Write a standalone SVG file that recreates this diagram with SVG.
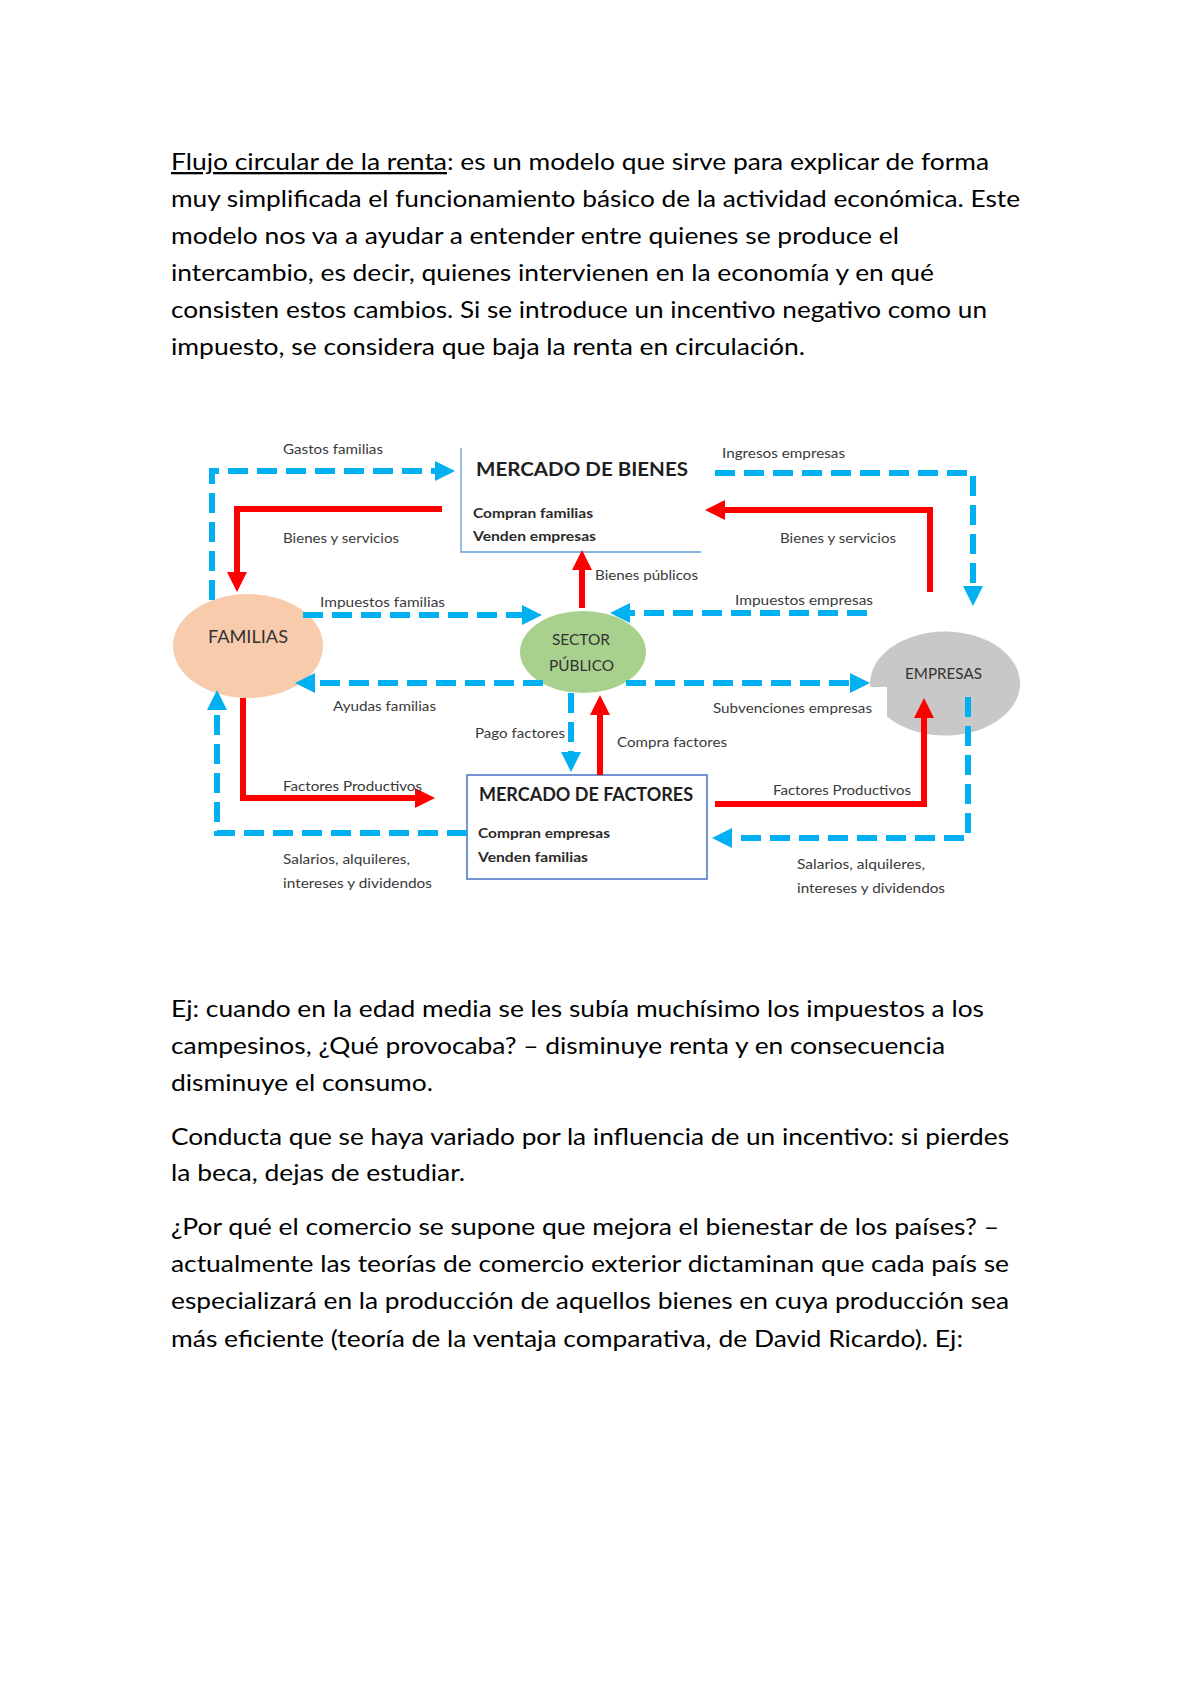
<svg xmlns="http://www.w3.org/2000/svg" width="1200" height="1698" viewBox="0 0 1200 1698">
<style>
.p{font-family:Lato,"Open Sans","Liberation Sans",sans-serif;font-size:23px;fill:#000}
.l{font-family:Lato,"Open Sans","Liberation Sans",sans-serif;font-size:13.5px;fill:#3a3a3a}
.n{font-family:Lato,"Open Sans","Liberation Sans",sans-serif;fill:#333}
.t{font-family:Lato,"Open Sans","Liberation Sans",sans-serif;font-size:19px;font-weight:bold;fill:#1e1e1e}
.s{font-family:Lato,"Open Sans","Liberation Sans",sans-serif;font-size:13.5px;font-weight:bold;fill:#2a2a2a}
.b{fill:none;stroke:#00B0F0;stroke-width:6;stroke-dasharray:20 9;marker-end:url(#ab)}
.r{fill:none;stroke:#FF0000;stroke-width:6;marker-end:url(#ar)}
</style>
<defs>
<marker id="ab" markerUnits="userSpaceOnUse" markerWidth="20" markerHeight="20" refX="0" refY="10" orient="auto" overflow="visible"><path d="M0,0 L20,10 L0,20 z" fill="#00B0F0"/></marker>
<marker id="ar" markerUnits="userSpaceOnUse" markerWidth="20" markerHeight="20" refX="0" refY="10" orient="auto" overflow="visible"><path d="M0,0 L20,10 L0,20 z" fill="#FF0000"/></marker>
</defs>
<rect width="1200" height="1698" fill="#fff"/>

<g id="intro">
<text class="p" x="171" y="170" textLength="276" lengthAdjust="spacingAndGlyphs" text-decoration="underline">Flujo circular de la renta</text>
<text class="p" x="447" y="170" textLength="542" lengthAdjust="spacingAndGlyphs">: es un modelo que sirve para explicar de forma</text>
<text class="p" x="171" y="207" textLength="849" lengthAdjust="spacingAndGlyphs">muy simplificada el funcionamiento básico de la actividad económica. Este</text>
<text class="p" x="171" y="244" textLength="728" lengthAdjust="spacingAndGlyphs">modelo nos va a ayudar a entender entre quienes se produce el</text>
<text class="p" x="171" y="281" textLength="763" lengthAdjust="spacingAndGlyphs">intercambio, es decir, quienes intervienen en la economía y en qué</text>
<text class="p" x="171" y="318" textLength="816" lengthAdjust="spacingAndGlyphs">consisten estos cambios. Si se introduce un incentivo negativo como un</text>
<text class="p" x="171" y="355" textLength="634" lengthAdjust="spacingAndGlyphs">impuesto, se considera que baja la renta en circulación.</text>
</g>

<g id="familias">
<ellipse cx="248" cy="646" rx="75" ry="52" fill="#F8CBAD"/>
<text class="n" x="208" y="643" font-size="17" textLength="80" lengthAdjust="spacingAndGlyphs">FAMILIAS</text>
</g>
<g id="sector-publico">
<ellipse cx="583" cy="652" rx="63" ry="41" fill="#A9D18E"/>
<text class="n" x="552" y="645" font-size="15" textLength="58" lengthAdjust="spacingAndGlyphs">SECTOR</text>
<text class="n" x="549" y="671" font-size="15" textLength="65" lengthAdjust="spacingAndGlyphs">PÚBLICO</text>
</g>
<g id="empresas">
<path d="M870.2,687 A75,52 0 1 1 887,716.5 L887,687 Z" fill="#C8C8C8"/>
<text class="n" x="905" y="679" font-size="15" textLength="77" lengthAdjust="spacingAndGlyphs">EMPRESAS</text>
</g>
<g id="mercado-bienes">
<path d="M461,448 V552 H701" fill="none" stroke="#5B9BD5" stroke-width="1.3"/>
<text class="t" x="476" y="476" textLength="212" lengthAdjust="spacingAndGlyphs">MERCADO DE BIENES</text>
<text class="s" x="473" y="518" textLength="120" lengthAdjust="spacingAndGlyphs">Compran familias</text>
<text class="s" x="473" y="541" textLength="123" lengthAdjust="spacingAndGlyphs">Venden empresas</text>
</g>
<g id="mercado-factores">
<rect x="467" y="775" width="240" height="104" fill="#fff" stroke="#4472C4" stroke-width="1.5"/>
<text class="t" x="479" y="801" textLength="214" lengthAdjust="spacingAndGlyphs">MERCADO DE FACTORES</text>
<text class="s" x="478" y="838" textLength="132" lengthAdjust="spacingAndGlyphs">Compran empresas</text>
<text class="s" x="478" y="862" textLength="110" lengthAdjust="spacingAndGlyphs">Venden familias</text>
</g>

<g id="connectors">
<path class="b" d="M212,600 V471 H435"/>
<path class="b" d="M715,473 H973 V586"/>
<path class="b" d="M303,615 H522"/>
<path class="b" d="M867,613 H630"/>
<path class="b" d="M543,683 H315"/>
<path class="b" d="M626,683 H850"/>
<path class="b" d="M571,693 V752"/>
<path class="b" d="M467,833 H217 V710"/>
<path class="b" d="M968,697 V838 H732"/>
<path class="r" d="M442,509 H237 V572"/>
<path class="r" d="M930,592 V510 H725"/>
<path class="r" d="M582,608 V570"/>
<path class="r" d="M600,775 V715"/>
<path class="r" d="M243,698 V798 H415"/>
<path class="r" d="M715,804 H924 V718"/>
</g>

<g id="labels">
<text class="l" x="283" y="454" textLength="100" lengthAdjust="spacingAndGlyphs">Gastos familias</text>
<text class="l" x="283" y="543" textLength="116" lengthAdjust="spacingAndGlyphs">Bienes y servicios</text>
<text class="l" x="320" y="607" textLength="125" lengthAdjust="spacingAndGlyphs">Impuestos familias</text>
<text class="l" x="333" y="711" textLength="103" lengthAdjust="spacingAndGlyphs">Ayudas familias</text>
<text class="l" x="283" y="791" textLength="139" lengthAdjust="spacingAndGlyphs">Factores Productivos</text>
<text class="l" x="283" y="864" textLength="127" lengthAdjust="spacingAndGlyphs">Salarios, alquileres,</text>
<text class="l" x="283" y="888" textLength="149" lengthAdjust="spacingAndGlyphs">intereses y dividendos</text>
<text class="l" x="475" y="738" textLength="90" lengthAdjust="spacingAndGlyphs">Pago factores</text>
<text class="l" x="617" y="747" textLength="110" lengthAdjust="spacingAndGlyphs">Compra factores</text>
<text class="l" x="595" y="580" textLength="103" lengthAdjust="spacingAndGlyphs">Bienes públicos</text>
<text class="l" x="722" y="458" textLength="123" lengthAdjust="spacingAndGlyphs">Ingresos empresas</text>
<text class="l" x="780" y="543" textLength="116" lengthAdjust="spacingAndGlyphs">Bienes y servicios</text>
<text class="l" x="735" y="605" textLength="138" lengthAdjust="spacingAndGlyphs">Impuestos empresas</text>
<text class="l" x="713" y="713" textLength="159" lengthAdjust="spacingAndGlyphs">Subvenciones empresas</text>
<text class="l" x="773" y="795" textLength="138" lengthAdjust="spacingAndGlyphs">Factores Productivos</text>
<text class="l" x="797" y="869" textLength="128" lengthAdjust="spacingAndGlyphs">Salarios, alquileres,</text>
<text class="l" x="797" y="893" textLength="148" lengthAdjust="spacingAndGlyphs">intereses y dividendos</text>
</g>

<g id="notes">
<text class="p" x="171" y="1017" textLength="813" lengthAdjust="spacingAndGlyphs">Ej: cuando en la edad media se les subía muchísimo los impuestos a los</text>
<text class="p" x="171" y="1054" textLength="774" lengthAdjust="spacingAndGlyphs">campesinos, ¿Qué provocaba? – disminuye renta y en consecuencia</text>
<text class="p" x="171" y="1091" textLength="262" lengthAdjust="spacingAndGlyphs">disminuye el consumo.</text>
<text class="p" x="171" y="1145" textLength="838" lengthAdjust="spacingAndGlyphs">Conducta que se haya variado por la influencia de un incentivo: si pierdes</text>
<text class="p" x="171" y="1181" textLength="294" lengthAdjust="spacingAndGlyphs">la beca, dejas de estudiar.</text>
<text class="p" x="171" y="1235" textLength="828" lengthAdjust="spacingAndGlyphs">¿Por qué el comercio se supone que mejora el bienestar de los países? –</text>
<text class="p" x="171" y="1272" textLength="838" lengthAdjust="spacingAndGlyphs">actualmente las teorías de comercio exterior dictaminan que cada país se</text>
<text class="p" x="171" y="1309" textLength="838" lengthAdjust="spacingAndGlyphs">especializará en la producción de aquellos bienes en cuya producción sea</text>
<text class="p" x="171" y="1347" textLength="792" lengthAdjust="spacingAndGlyphs">más eficiente (teoría de la ventaja comparativa, de David Ricardo). Ej:</text>
</g>
</svg>
